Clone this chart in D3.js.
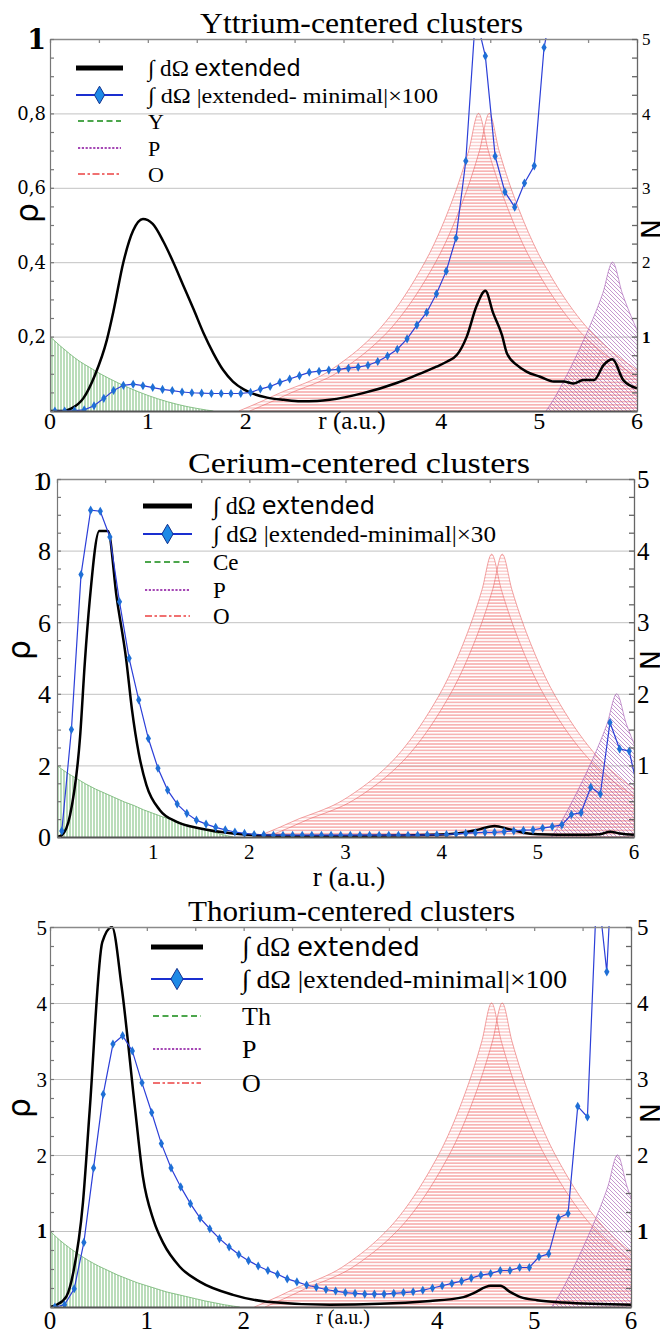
<!DOCTYPE html>
<html>
<head>
<meta charset="utf-8">
<script src="https://cdn.jsdelivr.net/npm/d3@7"></script>
<style>
  body { margin: 0; background: #fff; }
  svg { display: block; }
</style>
</head>
<body>
<script>
// bin centres of the |extended - minimal| curves
const rBins = [0.05,0.15,0.25,0.35,0.45,0.55,0.65,0.75,0.85,0.95,
               1.05,1.15,1.25,1.35,1.45,1.55,1.65,1.75,1.85,1.95,
               2.05,2.15,2.25,2.35,2.45,2.55,2.65,2.75,2.85,2.95,
               3.05,3.15,3.25,3.35,3.45,3.55,3.65,3.75,3.85,3.95,
               4.05,4.15,4.25,4.35,4.45,4.55,4.65,4.75,4.85,4.95,
               5.05,5.15,5.25,5.35,5.45,5.55,5.65,5.75,5.85,5.95,6.05];

// Yttrium : |extended-minimal| x100 (rho units)
const yDiff = [0,0,0.001,0.003,0.014,0.034,0.055,0.069,0.072,0.068,
               0.063,0.058,0.055,0.051,0.049,0.048,0.047,0.047,0.047,0.047,
               0.050,0.059,0.066,0.077,0.086,0.095,0.104,0.107,0.110,0.112,
               0.115,0.118,0.123,0.133,0.148,0.166,0.194,0.231,0.265,0.315,
               0.376,0.465,0.672,1.065,0.954,0.685,0.589,0.548,0.613,0.659,
               0.977,1.11,1.3,1.45,1.6,1.7,1.8,1.9,1.9,1.8,1.7];
// Cerium : x30
const ceDiff = [0.17,3.0,7.33,9.13,9.1,8.38,6.57,4.99,3.83,2.75,
                1.92,1.31,0.92,0.66,0.47,0.36,0.27,0.2,0.14,0.1,
                0.07,0.06,0.05,0.05,0.05,0.05,0.05,0.05,0.05,0.05,
                0.05,0.05,0.05,0.05,0.05,0.05,0.05,0.05,0.06,0.06,
                0.07,0.09,0.1,0.12,0.13,0.13,0.15,0.17,0.19,0.2,
                0.25,0.29,0.34,0.63,0.68,1.39,1.2,3.2,2.46,2.4,1.2];
// Thorium : x100
const thDiff = [0,0.03,0.24,0.85,1.83,2.8,3.46,3.57,3.37,2.95,
                2.56,2.15,1.83,1.58,1.36,1.17,1.03,0.9,0.79,0.69,
                0.61,0.54,0.48,0.43,0.37,0.33,0.29,0.26,0.23,0.21,
                0.19,0.18,0.17,0.17,0.17,0.18,0.19,0.2,0.22,0.25,
                0.28,0.31,0.34,0.38,0.42,0.44,0.48,0.48,0.52,0.52,
                0.66,0.7,1.17,1.23,2.64,2.5,5.6,4.41,7.0,8.0,8.0];

// integral over dOmega of the extended density, [r, rho]
const yExt = [[0,0],[0.14,0],[0.22,0.007],[0.34,0.034],[0.46,0.097],[0.58,0.19],[0.65,0.27],
  [0.75,0.40],[0.85,0.485],[0.95,0.516],[1.05,0.503],[1.16,0.455],[1.26,0.40],[1.36,0.339],
  [1.47,0.272],[1.57,0.209],[1.67,0.155],[1.77,0.11],[1.87,0.079],[1.98,0.058],[2.08,0.046],
  [2.22,0.036],[2.39,0.03],[2.56,0.026],[2.73,0.027],[2.86,0.03],[3.2,0.048],[3.55,0.076],
  [3.75,0.097],[3.95,0.119],[4.06,0.133],[4.16,0.151],[4.26,0.2],[4.36,0.282],[4.45,0.323],
  [4.53,0.263],[4.62,0.204],[4.67,0.155],[4.77,0.124],[4.87,0.106],[5.01,0.092],[5.15,0.079],
  [5.25,0.079],[5.35,0.074],[5.45,0.083],[5.56,0.083],[5.66,0.124],[5.75,0.139],[5.86,0.083],[6.0,0.061]];
const ceExt = [[0,0],[0.05,0.05],[0.135,0.6],[0.24,2.8],[0.29,4.9],[0.34,6.6],[0.44,8.55],
  [0.53,8.55],[0.62,6.7],[0.72,4.95],[0.78,3.55],[0.85,2.34],[0.93,1.45],[1.07,0.75],[1.24,0.43],
  [1.49,0.24],[1.83,0.1],[2.17,0.04],[2.5,0.03],[3.0,0.03],[3.5,0.04],[4.0,0.07],[4.22,0.12],
  [4.4,0.22],[4.55,0.31],[4.7,0.22],[4.85,0.12],[5.0,0.08],[5.4,0.06],[5.65,0.08],[5.75,0.15],
  [5.85,0.1],[6.0,0.06]];
const thExt = [[0,0],[0.07,0.03],[0.17,0.14],[0.24,0.45],[0.34,1.37],[0.41,2.59],[0.54,4.8],
  [0.64,5.0],[0.74,4.21],[0.88,2.59],[0.96,1.71],[1.07,1.14],[1.17,0.84],[1.34,0.53],[1.55,0.33],
  [1.89,0.16],[2.24,0.07],[2.89,0.03],[3.93,0.08],[4.27,0.13],[4.37,0.18],[4.55,0.28],[4.65,0.28],
  [4.75,0.2],[4.86,0.13],[5.03,0.09],[5.3,0.06],[6.0,0.03]];

// central atom count N(r) (right axis)
const rCentreY = [0,0.1,0.2,0.3,0.4,0.5,0.6,0.7,0.8,0.9,1.0,1.1,1.2,1.3,1.4,1.5,1.6,1.67];
const centreY  = [1,0.88,0.77,0.67,0.59,0.51,0.44,0.375,0.315,0.26,0.21,0.165,0.125,0.09,0.06,0.035,0.013,0];
const rCentreCe = [0,0.1,0.2,0.3,0.4,0.5,0.6,0.7,0.8,0.9,1.0,1.1,1.2,1.3,1.4,1.5,1.6,1.7,1.83];
const centreCe  = [1,0.9,0.82,0.74,0.67,0.61,0.55,0.49,0.44,0.38,0.33,0.28,0.24,0.19,0.15,0.12,0.08,0.04,0];
const rCentreTh = [0,0.1,0.2,0.3,0.4,0.5,0.6,0.7,0.8,0.9,1.0,1.1,1.2,1.3,1.4,1.5,1.6,1.7,1.8,1.9,1.96];
const centreTh  = [1,0.88,0.78,0.69,0.61,0.54,0.48,0.42,0.37,0.32,0.28,0.24,0.2,0.17,0.14,0.11,0.08,0.055,0.03,0.01,0];

// O and P cusps: distance from peak -> fraction of peak
const oDist  = [0,0.1,0.2,0.3,0.4,0.5,0.6,0.8,1.0,1.2,1.4,1.6,1.8,2.0,2.2,2.45];
const oShape = [1,0.875,0.77,0.68,0.6,0.53,0.47,0.365,0.28,0.215,0.163,0.12,0.09,0.065,0.035,0];
const pDist  = [0,0.1,0.2,0.3,0.4,0.5,0.6,0.68];
const pShape = [1,0.79,0.62,0.47,0.33,0.2,0.08,0];
const oPeaksY = [4.38,4.49], oPeaksCe = [4.52,4.63], oPeaksTh = [4.56,4.67];
const oHeight = [4, 3.95, 4];
const pPeaks = [5.75, 5.82, 5.86];
const pHeight = 2;

// tick labels
const leftValsY = [0.2,0.4,0.6,0.8,1], leftLabY = ["0,2","0,4","0,6","0,8","1"];
const leftValsCe = [0,2,4,6,8], leftLabCe = ["0","2","4","6","8"];
const leftValsTh = [1,2,3,4,5], leftLabTh = ["1","2","3","4","5"];
const rightVals = [1,2,3,4,5], rightLab = ["1","2","3","4","5"];
const xTicksY = [0,1,2,4,5,6], xTicksCe = [1,2,3,4,5,6], xTicksTh = [0,1,2,4,5,6];

const titles = ["Yttrium-centered clusters","Cerium-centered clusters","Thorium-centered clusters"];
const centreNames = ["Y","Ce","Th"];
const diffNames = ["|extended- minimal|×100","|extended-minimal|×30","|extended-minimal|×100"];

const SERIF = "'Liberation Serif','Times New Roman',serif";
const SANS = "'DejaVu Sans',sans-serif";

const svg = d3.select("body").append("svg").attr("width", 660).attr("height", 1334);
const defs = svg.append("defs");

// hatch patterns
const pg = defs.append("pattern").attr("id","hGreen").attr("patternUnits","userSpaceOnUse").attr("width",3).attr("height",3);
pg.append("line").attr("x1",1).attr("x2",1).attr("y1",0).attr("y2",3).attr("stroke","#95cb95").attr("stroke-width",1.3);
const pr = defs.append("pattern").attr("id","hRed").attr("patternUnits","userSpaceOnUse").attr("width",3.2).attr("height",3.2);
pr.append("line").attr("x1",0).attr("x2",3.2).attr("y1",1.6).attr("y2",1.6).attr("stroke","rgba(240,120,120,0.45)").attr("stroke-width",1.2);
const pp = defs.append("pattern").attr("id","hPurple").attr("patternUnits","userSpaceOnUse").attr("width",4).attr("height",4);
pp.append("path").attr("d","M0,0L4,4M-1,3L1,5M3,-1L5,1").attr("stroke","rgba(160,85,175,0.6)").attr("stroke-width",1);

function cusp(peak, h, dist, shape) {
  const left = dist.map((d, i) => [peak - d, shape[i] * h]).reverse();
  const right = dist.slice(1).map((d, i) => [peak + d, shape[i + 1] * h]);
  return left.concat(right);
}

function panel(p, k) {
  const g = svg.append("g");
  const x = d3.scaleLinear().domain([0, 6]).range([p.left, p.right]);
  const yL = d3.scaleLinear().domain([0, p.yMax]).range([p.bottom, p.top]);
  const yR = d3.scaleLinear().domain([0, 5]).range([p.bottom, p.top]);
  const w = p.right - p.left;

  // title
  g.append("text").attr("x", p.titleX).attr("y", p.titleY)
    .attr("font-family", SERIF).attr("font-size", p.titleSize)
    .attr("textLength", p.titleLen).attr("lengthAdjust", "spacingAndGlyphs")
    .text(titles[k]);

  // grid
  g.append("g").attr("transform", `translate(${p.left},0)`)
    .call(d3.axisLeft(yL).tickValues(p.grid).tickSize(-w).tickFormat(""))
    .call(a => a.select(".domain").remove())
    .selectAll("line").attr("stroke", "#c2c2c2").attr("stroke-width", 1);

  const clipId = "clip" + k;
  defs.append("clipPath").attr("id", clipId).append("rect")
    .attr("x", p.left).attr("y", p.top - 1).attr("width", w).attr("height", p.bottom - p.top + 1);
  const plot = g.append("g").attr("clip-path", `url(#${clipId})`);

  const area = d3.area().x(d => x(d[0])).y0(p.bottom).y1(d => yR(d[1])).curve(d3.curveMonotoneX);
  const edge = d3.line().x(d => x(d[0])).y(d => yR(d[1])).curve(d3.curveMonotoneX);

  const centre = d3.zip(p.rCentre, p.centre);
  plot.append("path").datum(centre).attr("d", area).attr("fill", "url(#hGreen)");
  plot.append("path").datum(centre).attr("d", edge).attr("fill", "none").attr("stroke", "#6fb36f").attr("stroke-width", 0.8);

  p.oPeaks.forEach(pk => {
    const c = cusp(pk, oHeight[k], oDist, oShape);
    plot.append("path").datum(c).attr("d", area).attr("fill", "url(#hRed)");
    plot.append("path").datum(c).attr("d", edge).attr("fill", "none").attr("stroke", "rgba(232,90,90,0.7)").attr("stroke-width", 0.8);
  });
  const pc = cusp(pPeaks[k], pHeight, pDist, pShape);
  plot.append("path").datum(pc).attr("d", area).attr("fill", "url(#hPurple)");
  plot.append("path").datum(pc).attr("d", edge).attr("fill", "none").attr("stroke", "rgba(160,80,175,0.75)").attr("stroke-width", 0.8);

  // extended density
  plot.append("path").datum(p.ext)
    .attr("d", d3.line().x(d => x(d[0])).y(d => yL(d[1])).curve(d3.curveMonotoneX))
    .attr("fill", "none").attr("stroke", "#000").attr("stroke-width", 2.5).attr("stroke-linejoin", "round");

  // difference curve with markers
  const diff = d3.zip(rBins, p.diff);
  plot.append("path").datum(diff)
    .attr("d", d3.line().x(d => x(d[0])).y(d => yL(d[1])))
    .attr("fill", "none").attr("stroke", "#2c3fd8").attr("stroke-width", 1.2);
  plot.selectAll(".mk").data(diff).join("path")
    .attr("transform", d => `translate(${x(d[0])},${yL(d[1])})`)
    .attr("d", d3.symbol(d3.symbolDiamond, 24)).attr("fill", "#1f6fd6");

  // frame + ticks
  g.append("g").attr("transform", `translate(0,${p.top})`)
    .call(d3.axisBottom(x).tickValues(d3.range(0, 6.01, 0.5)).tickSize(4).tickSizeOuter(0).tickFormat(""))
    .call(a => a.selectAll("path,line").attr("stroke", "#8a8a8a").attr("stroke-width", 1.3));
  g.append("g").attr("transform", `translate(0,${p.bottom})`)
    .call(d3.axisBottom(x).tickValues([]).tickSizeOuter(0))
    .select(".domain").attr("stroke", "#555").attr("stroke-width", 1.8);
  g.append("g").attr("transform", `translate(${p.left},0)`)
    .call(d3.axisLeft(yL).tickValues(d3.range(0, p.yMax + 1e-9, p.minorL)).tickSize(-4).tickSizeOuter(0).tickFormat(""))
    .call(a => a.selectAll("path,line").attr("stroke", "#777").attr("stroke-width", 1.2));
  g.append("g").attr("transform", `translate(${p.right},0)`)
    .call(d3.axisRight(yR).tickValues(d3.range(0, 5.01, 0.25)).tickSize(-5).tickSizeOuter(0).tickFormat(""))
    .call(a => a.selectAll("path,line").attr("stroke", "#666").attr("stroke-width", 1.3));

  // left labels
  p.leftVals.forEach((v, i) => {
    const bold = p.leftBold === i;
    g.append("text").attr("x", p.leftLabX).attr("y", yL(v)).attr("dy", "0.36em")
      .attr("text-anchor", "end").attr("font-family", p.leftFont)
      .attr("font-size", bold ? p.leftBoldSize : p.leftSize).attr("font-weight", bold ? "bold" : "normal")
      .text(p.leftLab[i]);
  });
  if (p.tenLabel) {
    g.append("text").attr("x", 33).attr("y", yL(10) + 2).attr("dy", "0.36em").attr("font-family", SERIF).attr("font-size", p.leftSize).text("1");
    g.append("text").attr("x", 38).attr("y", yL(10) + 2).attr("dy", "0.36em").attr("font-family", SERIF).attr("font-size", p.leftSize).text("0");
  }
  // right labels
  rightVals.forEach((v, i) => {
    const bold = p.rightBold && i === 0;
    g.append("text").attr("x", p.rightLabX).attr("y", yR(v)).attr("dy", "0.36em")
      .attr("font-family", SERIF).attr("font-size", p.rightSize).attr("font-weight", bold ? "bold" : "normal")
      .text(rightLab[i]);
  });
  // x labels
  p.xTicks.forEach(v => {
    g.append("text").attr("x", x(v)).attr("y", p.xLabY).attr("text-anchor", "middle")
      .attr("font-family", SERIF).attr("font-size", p.xSize).text(v);
  });
  g.append("text").attr("x", p.rLabX).attr("y", p.rLabY).attr("text-anchor", "middle")
    .attr("font-family", SERIF).attr("font-size", p.rLabSize).text("r (a.u.)");

  // axis titles
  g.append("text").attr("transform", `translate(${p.rhoX},${p.rhoY}) rotate(-90)`)
    .attr("text-anchor", "middle").attr("font-family", SANS).attr("font-size", 32).text("ρ");
  g.append("text").attr("transform", `translate(${p.nX},${p.nY}) rotate(90)`)
    .attr("text-anchor", "middle").attr("font-family", SANS).attr("font-size", 27).text("N");

  // legend
  const L = p.leg;
  const lg = g.append("g");
  const row = (i) => L.rows[i];
  lg.append("line").attr("x1", L.x0).attr("x2", L.x1).attr("y1", row(0)).attr("y2", row(0)).attr("stroke", "#000").attr("stroke-width", 5);
  lg.append("line").attr("x1", L.x0).attr("x2", L.x1).attr("y1", row(1)).attr("y2", row(1)).attr("stroke", "#1a2fd0").attr("stroke-width", 2.2);
  lg.append("path").attr("transform", `translate(${(L.x0 + L.x1) / 2},${row(1)})`)
    .attr("d", d3.symbol(d3.symbolDiamond, L.diam)).attr("fill", "#1e8ae6").attr("stroke", "#10308f").attr("stroke-width", 1);
  const dash = [["#4ca64c", "6,3.5"], ["#a548b5", "2.2,1.6"], ["#f07070", "7,2.5,2.5,2.5"]];
  dash.forEach((d, i) => {
    lg.append("line").attr("x1", L.x0 + 2).attr("x2", L.x1 - 2).attr("y1", row(i + 2)).attr("y2", row(i + 2))
      .attr("stroke", d[0]).attr("stroke-width", 2).attr("stroke-dasharray", d[1]);
  });
  const t1 = lg.append("text").attr("x", L.tx).attr("y", row(0) + L.fs * 0.36).attr("font-size", L.fs);
  t1.append("tspan").attr("font-family", SERIF).attr("font-size", L.fs * 1.05).text("∫ dΩ ");
  t1.append("tspan").attr("font-family", SANS).attr("font-size", L.sansFs).text("extended");
  lg.append("text").attr("x", L.tx).attr("y", row(1) + L.fs * 0.36).attr("font-family", SERIF).attr("font-size", L.fs)
    .attr("textLength", L.row2Len).attr("lengthAdjust", "spacingAndGlyphs")
    .text("∫ dΩ " + diffNames[k]);
  [centreNames[k], "P", "O"].forEach((s, i) => {
    lg.append("text").attr("x", L.tx).attr("y", row(i + 2) + L.fs * 0.36).attr("font-family", SERIF).attr("font-size", L.fs).text(s);
  });
}

const panels = [
  { left: 50, right: 637, top: 39, bottom: 411, yMax: 1, grid: [0.2,0.4,0.6,0.8], minorL: 0.05,
    titleX: 200, titleY: 33, titleSize: 29, titleLen: 323,
    rCentre: rCentreY, centre: centreY, oPeaks: oPeaksY, ext: yExt, diff: yDiff,
    leftVals: leftValsY, leftLab: leftLabY, leftFont: "'DejaVu Serif',serif", leftSize: 18, leftBold: 4, leftBoldSize: 27, leftLabX: 46,
    rightBold: true, rightSize: 17, rightLabX: 642,
    xTicks: xTicksY, xLabY: 429, xSize: 24, rLabX: 352, rLabY: 429, rLabSize: 25,
    rhoX: 38, rhoY: 213, nX: 641, nY: 229,
    leg: { x0: 76, x1: 123, tx: 148, rows: [68,95,121,148,174], fs: 22, sansFs: 22.5, diam: 90, row2Len: 290 } },
  { left: 57, right: 634, top: 479, bottom: 837, yMax: 10, grid: [2,4,6,8], minorL: 0.5,
    titleX: 188, titleY: 473, titleSize: 30, titleLen: 342,
    rCentre: rCentreCe, centre: centreCe, oPeaks: oPeaksCe, ext: ceExt, diff: ceDiff,
    leftVals: leftValsCe, leftLab: leftLabCe, leftFont: SERIF, leftSize: 26, leftBold: -1, leftBoldSize: 26, leftLabX: 51, tenLabel: true,
    rightBold: false, rightSize: 25, rightLabX: 637,
    xTicks: xTicksCe, xLabY: 859, xSize: 21, rLabX: 349, rLabY: 886, rLabSize: 27,
    rhoX: 30, rhoY: 650, nX: 640, nY: 660,
    leg: { x0: 143, x1: 192, tx: 213, rows: [506,534,562,590,616], fs: 23, sansFs: 24, diam: 110, row2Len: 283 } },
  { left: 50, right: 631, top: 927, bottom: 1307, yMax: 5, grid: [1,2,3,4], minorL: 0.25,
    titleX: 188, titleY: 921, titleSize: 30, titleLen: 327,
    rCentre: rCentreTh, centre: centreTh, oPeaks: oPeaksTh, ext: thExt, diff: thDiff,
    leftVals: leftValsTh, leftLab: leftLabTh, leftFont: SERIF, leftSize: 21, leftBold: 0, leftBoldSize: 20, leftLabX: 47,
    rightBold: true, rightSize: 23, rightLabX: 637,
    xTicks: xTicksTh, xLabY: 1329, xSize: 25, rLabX: 343, rLabY: 1324, rLabSize: 20,
    rhoX: 30, rhoY: 1108, nX: 640, nY: 1113,
    leg: { x0: 151, x1: 203, tx: 242, rows: [947,979,1016,1049,1083], fs: 26, sansFs: 26, diam: 130, row2Len: 325 } }
];

panels.forEach((p, k) => panel(p, k));
</script>
</body>
</html>
